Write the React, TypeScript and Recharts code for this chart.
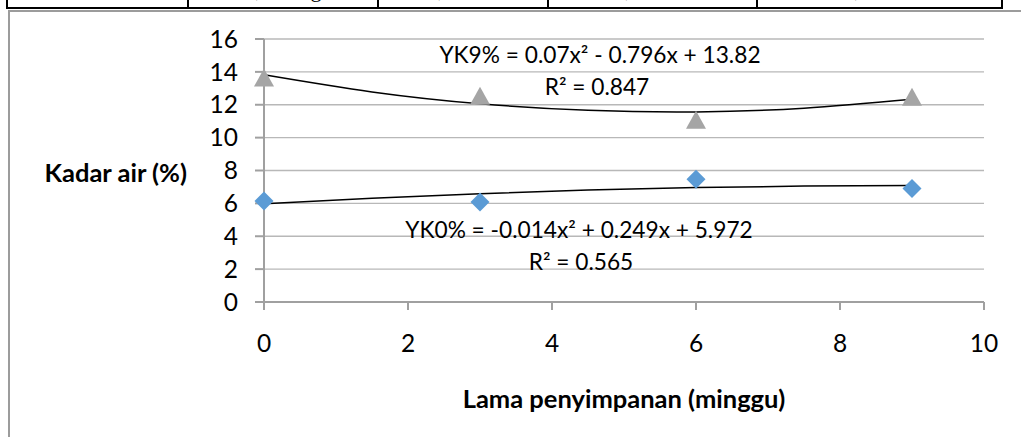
import React from "react";
import {
  ComposedChart, Scatter, Line, XAxis, YAxis, CartesianGrid, Label, Customized,
} from "recharts";

// storage time (weeks) and moisture content (%)
const WEEKS = [0, 3, 6, 9];
const YK0 = [6.14, 6.08, 7.47, 6.91];
const YK9 = [13.66, 12.54, 11.08, 12.48];

// polynomial trendlines
const TREND_X = [0, 1.5, 3, 4.5, 6, 7.5, 9];
const TREND_YK0 = [5.97, 6.31, 6.59, 6.81, 6.96, 7.05, 7.08];
const TREND_YK9 = [13.82, 12.78, 12.06, 11.66, 11.56, 11.79, 12.33];

const X_TICKS = [0, 2, 4, 6, 8, 10];
const Y_TICKS = [0, 2, 4, 6, 8, 10, 12, 14, 16];

const EQ_YK9 = "YK9% = 0.07x² - 0.796x + 13.82";
const R2_YK9 = "R² = 0.847";
const EQ_YK0 = "YK0% = -0.014x² + 0.249x + 5.972";
const R2_YK0 = "R² = 0.565";

// last row of the table above the chart (only its bottom edge shows)
const TABLE_CELLS = [
  { text: "KL 9%", w: 179 },
  { text: "13,66     gh", w: 188 },
  { text: "12,54     ef", w: 168 },
  { text: "11,08     de", w: 207 },
  { text: "12,48     ef", w: 243 },
];

const FONT = "Lato, 'Open Sans', sans-serif";
const GRID = "#b8b8b8";
const AXIS = "#a0a0a0";

const pts = (xs: number[], ys: number[]) => xs.map((x, i) => ({ x, y: ys[i] }));

const Diamond = (p: any) => {
  const { cx, cy } = p;
  const r = 9.5;
  return <polygon points={`${cx},${cy - r} ${cx + r},${cy} ${cx},${cy + r} ${cx - r},${cy}`} fill="#5b9bd5" />;
};

const Triangle = (p: any) => {
  const { cx, cy } = p;
  return <polygon points={`${cx},${cy - 9} ${cx + 10},${cy + 9} ${cx - 10},${cy + 9}`} fill="#a5a5a5" />;
};

const Equations = () => (
  <g fontFamily={FONT} fontSize={22.7} fill="#000" textAnchor="middle">
    <text x={600} y={62.5}>{EQ_YK9}</text>
    <text x={597} y={95}>{R2_YK9}</text>
    <text x={579} y={238}>{EQ_YK0}</text>
    <text x={581} y={270}>{R2_YK0}</text>
  </g>
);

export default function App() {
  return (
    <div style={{ position: "absolute", left: 0, top: 0, width: 1021, height: 437, overflow: "hidden", background: "#fff" }}>
      <div style={{
        position: "absolute", left: 6, top: -30, height: 37, display: "flex",
        borderLeft: "2px solid #000", borderBottom: "2px solid #000",
        fontFamily: "'Liberation Serif', serif", fontSize: 22, lineHeight: "24px", color: "#000",
      }}>
        {TABLE_CELLS.map((c) => (
          <div key={c.text} style={{ width: c.w, borderRight: "2px solid #000", paddingTop: 8, textAlign: "center", whiteSpace: "pre" }}>
            {c.text}
          </div>
        ))}
      </div>

      <div style={{ position: "absolute", left: 8, top: 10, width: 1100, height: 500, border: "2.5px solid #9c9c9c" }} />

      <div style={{ position: "absolute", left: 0, top: 0 }}>
        <ComposedChart width={1021} height={437} margin={{ top: 39, right: 37, bottom: 0, left: 0 }} style={{ fontFamily: FONT }}>
          <CartesianGrid vertical={false} stroke={GRID} strokeWidth={1.3} />
          <XAxis
            type="number" dataKey="x" domain={[0, 10]} ticks={X_TICKS} interval={0} height={135}
            stroke={AXIS} strokeWidth={2} tickSize={8} tickMargin={25}
            tick={{ fill: "#000", fontSize: 24.5 }}
          >
            <Label
              content={() => (
                <text x={624} y={398} textAnchor="middle" dominantBaseline="central" fontWeight={700} fontSize={25.5} fontFamily={FONT} fill="#000">
                  Lama penyimpanan (minggu)
                </text>
              )}
            />
          </XAxis>
          <YAxis
            type="number" dataKey="y" domain={[0, 16]} ticks={Y_TICKS} interval={0} width={264}
            stroke={AXIS} strokeWidth={2} tickSize={9} tickMargin={17}
            tick={{ fill: "#000", fontSize: 24.5 }}
          >
            <Label
              content={() => (
                <text x={187} y={172} textAnchor="end" dominantBaseline="central" fontWeight={700} fontSize={25.5} fontFamily={FONT} fill="#000">
                  Kadar air (%)
                </text>
              )}
            />
          </YAxis>
          <Scatter data={pts(WEEKS, YK0)} shape={Diamond} isAnimationActive={false} />
          <Scatter data={pts(WEEKS, YK9)} shape={Triangle} isAnimationActive={false} />
          <Line data={pts(TREND_X, TREND_YK0)} dataKey="y" type="natural" stroke="#000" strokeWidth={1.5} dot={false} activeDot={false} isAnimationActive={false} />
          <Line data={pts(TREND_X, TREND_YK9)} dataKey="y" type="natural" stroke="#000" strokeWidth={1.5} dot={false} activeDot={false} isAnimationActive={false} />
          <Customized component={Equations} />
        </ComposedChart>
      </div>
    </div>
  );
}
